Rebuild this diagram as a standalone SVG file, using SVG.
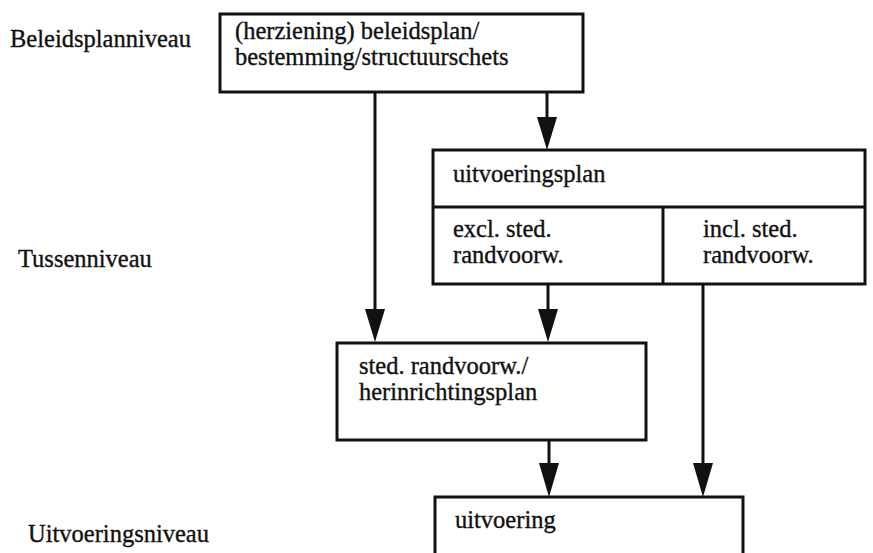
<svg xmlns="http://www.w3.org/2000/svg" width="873" height="553" viewBox="0 0 873 553">
  <style>
    .box { fill: #ffffff; stroke: #111111; stroke-width: 3; }
    .div { stroke: #111111; stroke-width: 3; fill: none; }
    .lbl { font-family: "Liberation Serif", "Times New Roman", serif; font-size: 24.5px; fill: #111111; stroke: #111111; stroke-width: 0.35px; }
    .line { stroke: #111111; stroke-width: 3; fill: none; }
    .head { fill: #111111; }
  </style>
  <rect width="873" height="553" fill="#ffffff"/>

  <!-- level labels -->
  <g id="levels">
    <text class="lbl" x="10" y="47">Beleidsplanniveau</text>
    <text class="lbl" x="18" y="267">Tussenniveau</text>
    <text class="lbl" x="28" y="542">Uitvoeringsniveau</text>
  </g>

  <g id="beleidsplan">
    <rect class="box" x="220" y="14" width="363" height="78"/>
    <text class="lbl" x="235" y="39">(herziening) beleidsplan/</text>
    <text class="lbl" x="235" y="65">bestemming/structuurschets</text>
  </g>

  <g id="uitvoeringsplan">
    <rect class="box" x="433" y="150" width="432" height="134"/>
    <line class="div" x1="433" y1="207" x2="865" y2="207"/>
    <line class="div" x1="663" y1="207" x2="663" y2="284"/>
    <text class="lbl" x="453" y="182">uitvoeringsplan</text>
    <text class="lbl" x="453" y="237">excl. sted.</text>
    <text class="lbl" x="453" y="263">randvoorw.</text>
    <text class="lbl" x="703" y="237">incl. sted.</text>
    <text class="lbl" x="703" y="263">randvoorw.</text>
  </g>

  <g id="herinrichtingsplan">
    <rect class="box" x="337" y="343" width="309" height="97"/>
    <text class="lbl" x="359" y="374">sted. randvoorw./</text>
    <text class="lbl" x="359" y="400">herinrichtingsplan</text>
  </g>

  <g id="uitvoering">
    <rect class="box" x="435" y="497" width="308" height="70"/>
    <text class="lbl" x="455" y="528">uitvoering</text>
  </g>

  <!-- connectors: shaft plus filled triangular head -->
  <g id="connectors">
    <line class="line" x1="375" y1="92" x2="375" y2="312"/>
    <line class="line" x1="547" y1="92" x2="547" y2="120"/>
    <line class="line" x1="548" y1="284" x2="548" y2="312"/>
    <line class="line" x1="703" y1="284" x2="703" y2="466"/>
    <line class="line" x1="549" y1="440" x2="549" y2="466"/>
    <polygon class="head" points="365,309 385,309 375,342"/>
    <polygon class="head" points="537,117 557,117 547,150"/>
    <polygon class="head" points="538,309 558,309 548,342"/>
    <polygon class="head" points="693,463 713,463 703,497"/>
    <polygon class="head" points="539,463 559,463 549,497"/>
  </g>
</svg>
